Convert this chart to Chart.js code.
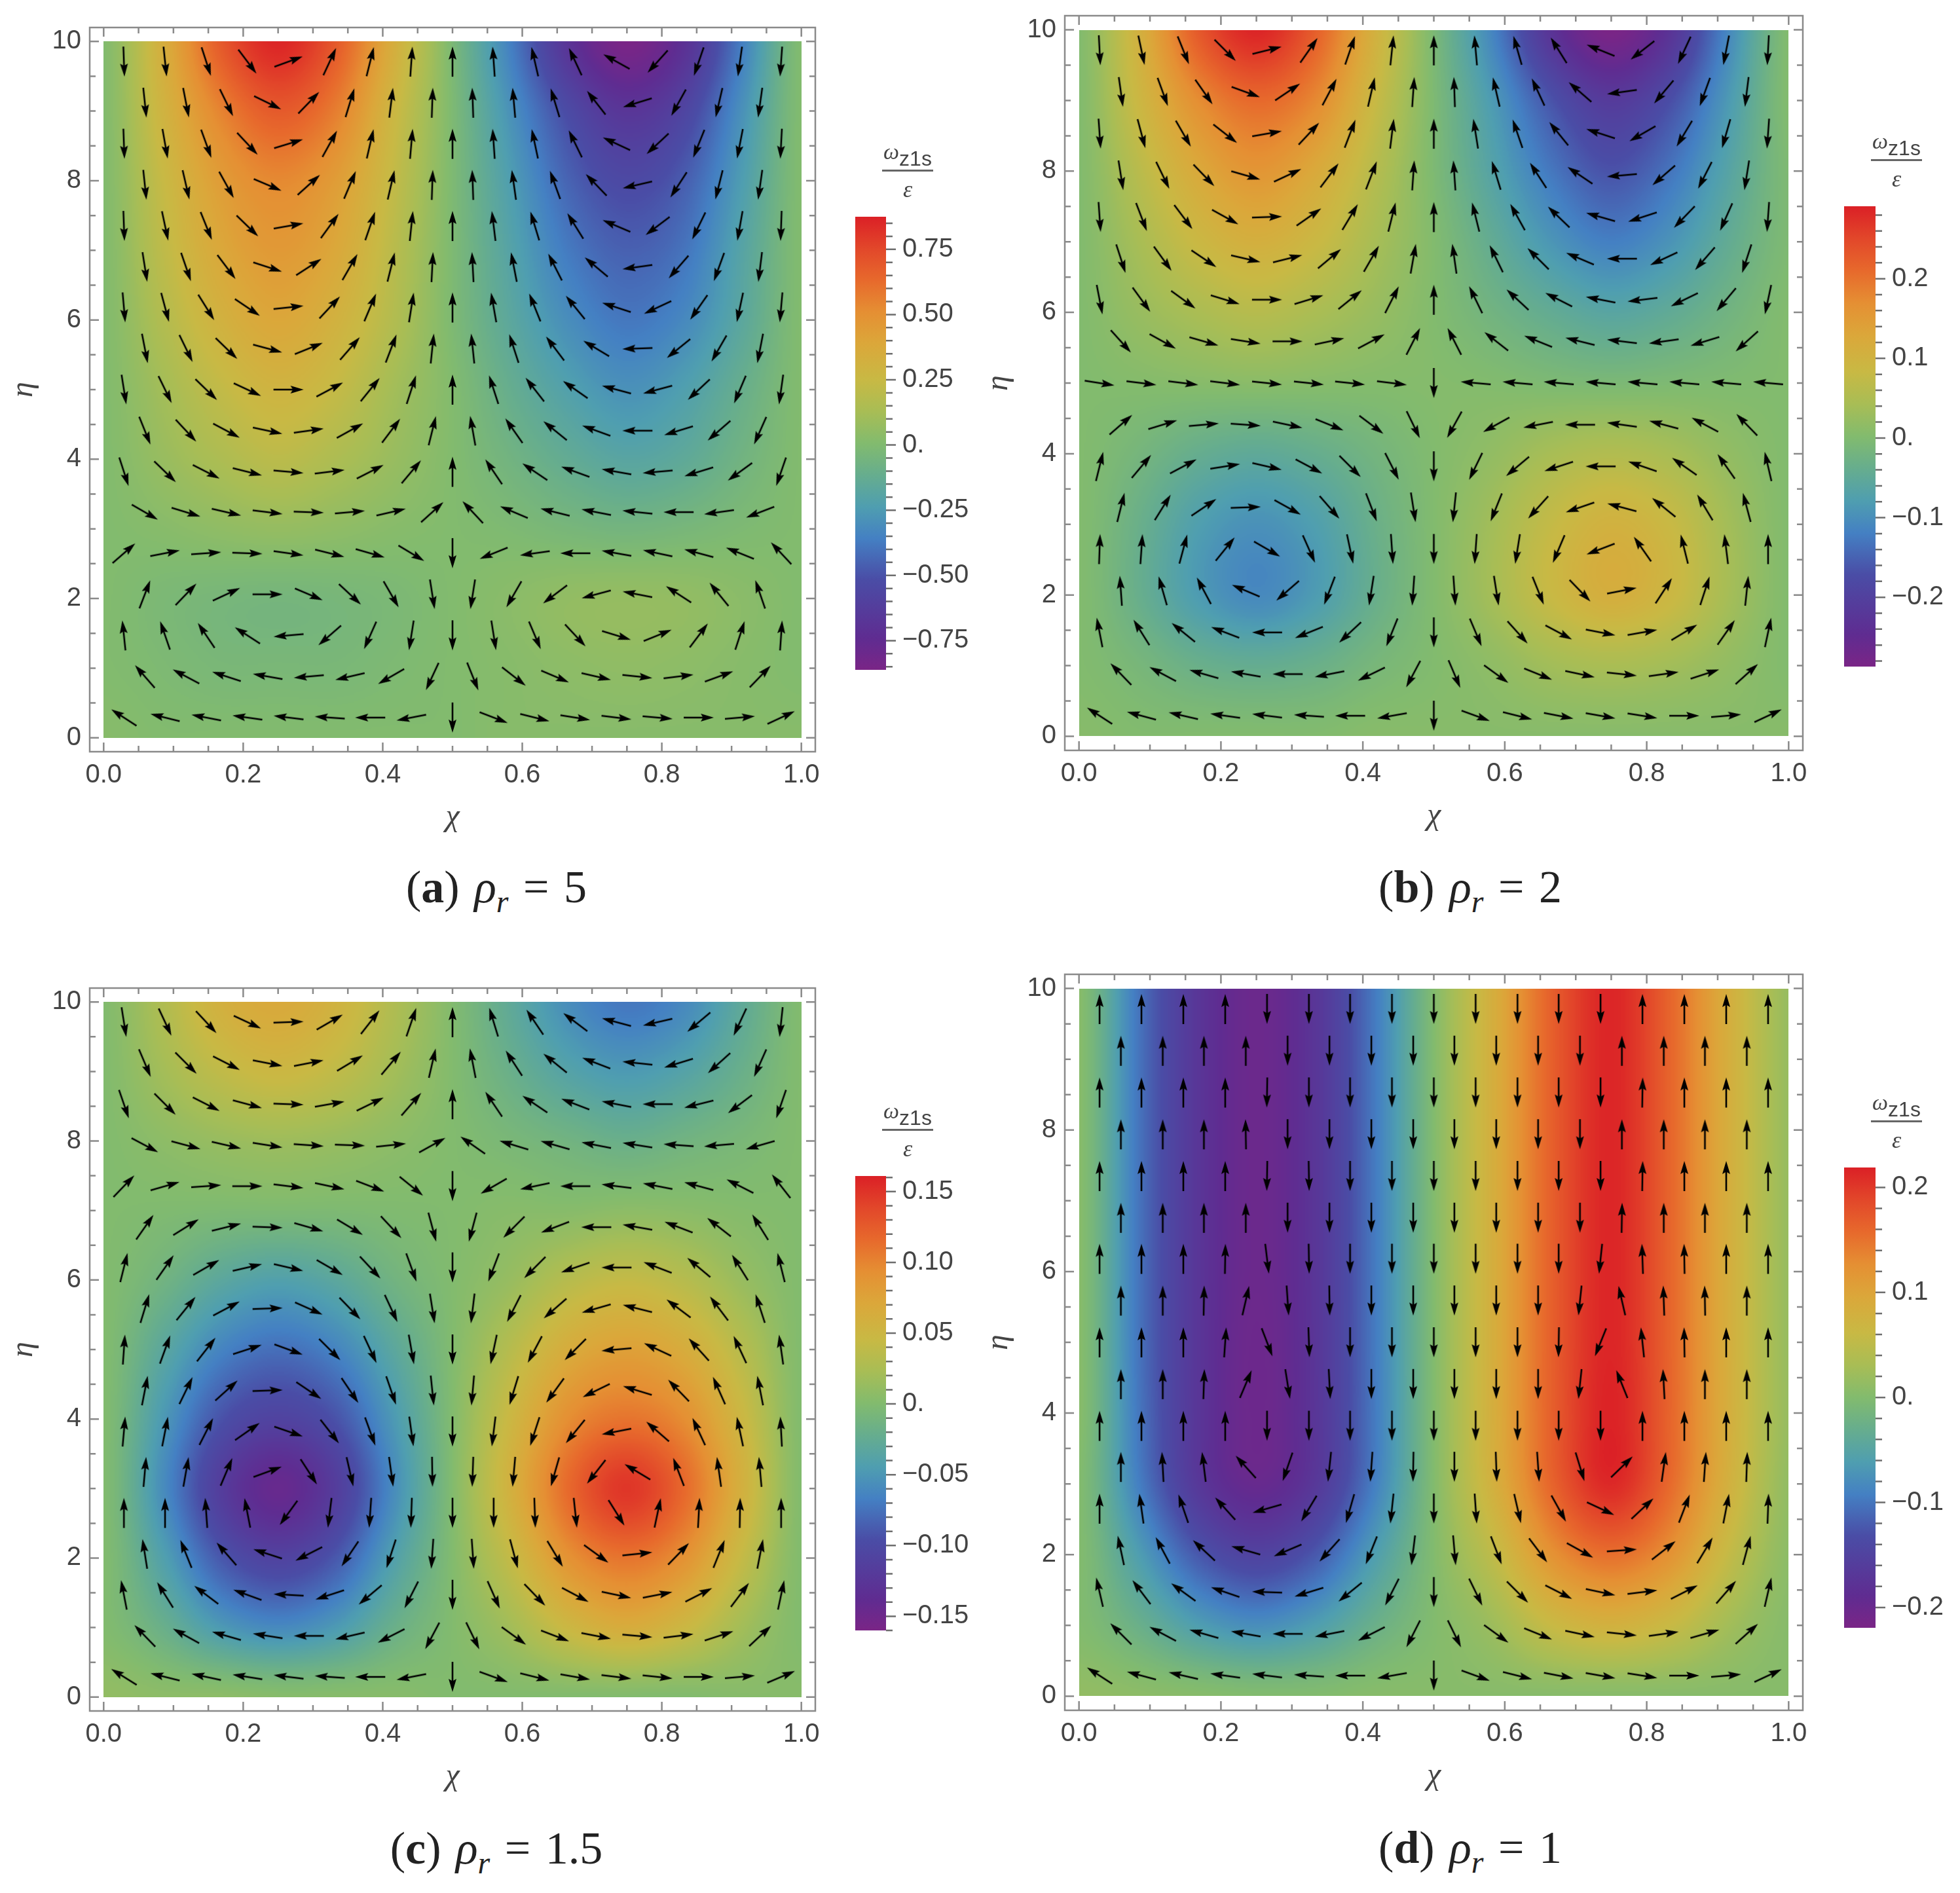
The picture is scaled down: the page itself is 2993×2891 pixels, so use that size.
<!DOCTYPE html>
<html>
<head>
<meta charset="utf-8">
<title>omega z1s</title>
<script src="https://cdn.jsdelivr.net/npm/chart.js@4"></script>
<style>
  html, body { margin: 0; background: #fff; }
  body { position: relative; width: 2993px; height: 2891px; overflow: hidden; }
  canvas { position: absolute; }
  .caption { position: absolute; width: 700px; margin-left: -350px; text-align: center; font: 70px "Liberation Serif", serif; word-spacing: 5px; color: #222; white-space: nowrap; }
  .caption sub { font-size: 48px; line-height: 0; }
  .frac { position: absolute; width: 78px; margin-left: -39px; color: #444; text-align: center; }
  .frac .num { height: 44px; border-bottom: 3px solid #666; font: 32px "Liberation Sans", sans-serif; white-space: nowrap; line-height: 54px; }
  .frac .num i { font: italic 34px "Liberation Serif", serif; position: relative; top: -10px; }
  .frac .den { font: italic 36px "Liberation Serif", serif; line-height: 54px; }
</style>
</head>
<body>
<script>
// 箭頭的列與行位置 (上到下)
const arrowEta = [9.71, 9.12, 8.53, 7.94, 7.35, 6.76, 6.18, 5.59, 5.0, 4.41, 3.82, 3.24, 2.65, 2.06, 1.47, 0.88, 0.29];
const arrowXLong = [0.029, 0.088, 0.147, 0.206, 0.265, 0.324, 0.382, 0.441, 0.5, 0.559, 0.618, 0.676, 0.735, 0.794, 0.853, 0.912, 0.971];
const arrowXShort = [0.059, 0.118, 0.176, 0.235, 0.294, 0.353, 0.412, 0.471, 0.529, 0.588, 0.647, 0.706, 0.765, 0.824, 0.882, 0.941];

// 箭頭方向 (度, 順時針, 0 = 朝上)
const anglesA = [
  [178,174,162,143,70,25,14,4,0,-4,-13,-25,-61,222,199,188,184],
  [174,169,154,116,44,17,7,2,-2,-5,-17,-38,253,209,193,188],
  [178,170,160,137,73,29,13,5,0,-4,-12,-26,-65,227,202,191,183],
  [174,167,151,113,48,23,13,2,-2,-8,-20,-44,257,213,194,188],
  [178,168,158,134,80,36,19,6,0,-7,-17,-32,-67,233,206,190,182],
  [171,161,143,108,57,30,14,3,-3,-11,-27,-50,262,221,200,187],
  [175,165,148,124,84,43,23,9,0,-10,-22,-39,-72,245,215,192,185],
  [169,154,134,105,68,41,21,6,-6,-18,-37,-59,268,231,210,191],
  [171,154,134,115,90,62,39,18,0,-18,-38,-55,-75,255,227,203,188],
  [158,137,118,102,82,61,37,14,-10,-35,-51,-70,270,253,229,204],
  [162,134,117,104,95,83,63,40,0,-34,-56,-70,-80,265,253,234,199],
  [120,107,103,97,92,85,77,48,-43,-67,-76,-79,-84,-90,262,249],
  [49,79,86,92,98,104,106,121,180,248,262,270,-80,-78,-75,-68,-43],
  [21,44,65,90,113,133,150,171,189,210,233,255,-79,-57,-39,-19],
  [-6,-19,-34,-57,265,229,204,189,180,171,157,137,107,68,37,18,4],
  [-41,-62,-72,-80,265,257,240,205,158,128,113,103,96,83,70,44],
  [-57,-76,-79,-82,-83,-86,270,259,180,111,104,99,97,95,90,85,65]
];
const anglesB = [
  [177,168,158,135,76,35,19,6,0,-5,-16,-32,-68,232,205,191,183],
  [172,160,145,110,56,28,13,4,-2,-13,-25,-49,262,220,200,187],
  [176,165,150,128,80,43,21,7,0,-9,-19,-39,-72,240,211,196,184],
  [171,154,136,106,65,37,21,4,-4,-17,-33,-56,265,229,207,189],
  [176,159,143,119,88,55,31,14,0,-14,-29,-46,-74,252,224,204,184],
  [162,144,124,103,76,50,30,10,-8,-26,-45,-67,270,245,221,198],
  [169,144,126,107,90,73,51,27,0,-26,-47,-63,-79,263,244,220,192],
  [138,119,106,99,90,78,62,27,-27,-52,-68,-76,-83,262,253,228],
  [99,97,97,97,96,96,96,97,180,-85,-85,-85,-85,-85,-85,-85,-85],
  [49,73,85,94,102,112,127,154,209,241,259,270,-82,-75,-62,-44],
  [14,40,62,81,103,118,135,153,180,206,230,252,270,-71,-55,-35,-13],
  [14,32,56,88,119,139,159,171,186,202,222,251,-75,-51,-31,-15],
  [2,4,15,39,120,156,168,176,180,184,189,203,249,-35,-14,-7,0],
  [-4,-16,-28,-67,229,201,189,184,176,171,158,136,79,33,18,6],
  [-11,-32,-51,-69,270,248,227,202,180,157,138,118,101,80,59,35,12],
  [-44,-62,-74,-80,270,259,244,208,157,126,112,102,96,82,72,48],
  [-57,-75,-77,-82,-83,-86,270,260,180,110,104,101,100,99,90,85,65]
];
const anglesC = [
  [171,155,137,115,88,60,38,19,0,-17,-34,-53,-75,257,230,205,186],
  [157,135,117,101,79,59,40,13,-11,-33,-51,-69,-84,253,228,204],
  [161,135,117,105,92,80,64,41,0,-34,-56,-69,-79,270,256,233,199],
  [118,105,103,99,94,92,84,61,-55,-73,-74,-79,-81,-86,265,254],
  [44,74,86,90,97,102,111,129,180,240,258,270,-83,-79,-75,-63,-38],
  [35,58,76,92,106,121,137,165,195,225,249,270,-80,-69,-52,-32],
  [14,35,60,77,103,120,137,160,180,201,225,251,270,-69,-50,-32,-14],
  [17,39,62,88,114,136,155,171,187,207,229,254,-76,-53,-37,-18],
  [4,20,38,72,110,135,155,170,180,192,208,225,265,-65,-42,-25,-8],
  [11,26,48,88,124,146,161,174,185,197,216,244,-73,-44,-24,-11],
  [5,11,27,55,109,142,160,172,180,187,198,219,259,-49,-25,-12,-3],
  [5,10,23,70,147,167,172,179,182,185,196,218,-59,-21,-8,-5],
  [0,0,-4,-11,216,187,184,182,180,180,178,174,148,12,3,1,0],
  [-9,-22,-41,-72,243,214,198,184,176,165,149,126,84,44,22,11],
  [-11,-32,-53,-70,-87,252,230,207,180,156,136,118,102,79,63,37,12],
  [-44,-61,-74,-81,270,257,243,208,154,126,111,101,95,83,72,47],
  [-58,-76,-78,-81,-83,-86,270,259,180,110,104,100,97,96,90,85,67]
];
const anglesD = [
  [0,0,0,0,180,180,180,180,180,180,180,180,180,0,0,0,0],
  [0,0,0,0,180,180,180,180,180,180,180,180,0,0,0,0],
  [0,0,0,0,181,180,180,180,180,180,180,180,180,1,0,0,0],
  [0,0,0,-1,180,180,180,180,180,180,180,180,0,0,0,0],
  [0,0,0,0,181,179,180,180,180,180,180,180,180,1,0,0,0],
  [0,0,0,0,180,180,180,180,180,180,180,180,1,0,0,0],
  [0,0,0,1,173,179,180,180,180,180,180,180,186,-2,-1,0,0],
  [0,0,1,13,176,179,180,180,180,180,180,186,-13,-2,-1,0],
  [0,0,0,4,159,178,180,180,180,180,180,181,202,-6,-1,0,0],
  [0,0,2,23,171,177,180,180,180,180,180,186,-22,-3,0,0],
  [0,0,0,0,180,180,180,180,180,180,180,180,180,0,0,0,0],
  [0,-3,-7,-42,199,186,184,181,180,178,176,163,46,8,4,2],
  [0,-8,-19,-42,254,211,196,186,180,176,167,151,115,47,21,11,2],
  [-12,-28,-47,-74,247,222,202,187,175,159,143,119,86,52,31,15],
  [-13,-37,-54,-71,-88,253,231,207,180,154,135,117,102,83,63,41,13],
  [-45,-62,-74,-80,270,259,243,207,154,126,112,102,96,82,74,48],
  [-57,-75,-77,-82,-83,-86,270,260,180,110,104,101,100,99,90,85,65]
];

// 底色數值 (色條範圍的百分比), 列: η = 10 到 0, 行: χ = 0 到 1 (每 1/12)
const heatA = [
  [0,38,78,98,78,38,-3,-42,-80,-100,-82,-42,0],
  [0,33,62,78,64,30,-2,-34,-62,-78,-66,-34,0],
  [0,27,50,60,50,25,-2,-28,-52,-63,-54,-28,0],
  [0,23,43,52,43,21,-2,-24,-44,-53,-46,-23,0],
  [0,18,35,44,35,18,-2,-20,-36,-45,-38,-20,0],
  [0,12,25,33,26,12,0,-14,-26,-34,-27,-13,0],
  [0,8,16,22,16,8,0,-8,-16,-22,-18,-8,0],
  [0,2,5,7,5,2,0,-2,-5,-7,-5,-2,0],
  [0,-3,-5,-6,-5,-3,0,3,6,7,6,3,0],
  [0,-2,-4,-4,-4,-2,0,2,4,5,4,2,0],
  [2,0,0,0,0,0,0,2,2,2,2,2,2]
];
const heatB = [
  [0,36,78,98,76,36,-3,-40,-80,-100,-80,-38,0],
  [0,30,58,72,60,28,-2,-30,-58,-74,-60,-30,0],
  [0,21,42,54,42,20,-2,-24,-45,-58,-46,-23,-2],
  [0,14,29,37,29,14,0,-16,-32,-42,-33,-16,-2],
  [0,8,15,20,15,8,0,-8,-16,-22,-17,-8,0],
  [0,1,2,3,2,1,1,0,-2,-3,-2,-1,0],
  [0,-6,-14,-18,-14,-7,0,6,14,18,14,6,0],
  [0,-12,-27,-34,-27,-12,0,12,26,35,28,12,0],
  [0,-13,-29,-38,-29,-13,0,13,28,38,30,13,0],
  [0,-5,-12,-15,-12,-5,0,5,12,15,12,6,0],
  [2,0,0,0,0,2,2,2,2,2,2,2,2]
];
const heatC = [
  [0,17,36,42,34,17,0,-18,-36,-45,-38,-18,0],
  [0,12,24,30,24,12,0,-12,-24,-30,-24,-12,0],
  [0,4,8,10,8,4,0,-4,-8,-12,-8,-4,0],
  [0,-1,-2,-2,-2,-1,0,2,2,4,3,1,0],
  [0,-8,-20,-26,-20,-8,0,8,20,26,20,8,0],
  [0,-20,-40,-48,-40,-20,0,20,40,48,40,20,0],
  [0,-30,-58,-68,-58,-30,0,30,58,68,58,30,0],
  [0,-36,-72,-90,-72,-36,0,36,72,92,72,36,0],
  [0,-26,-56,-68,-56,-26,0,26,56,68,56,26,0],
  [0,-12,-30,-38,-30,-12,0,12,30,40,30,12,0],
  [6,4,4,2,2,2,0,0,0,0,0,2,2]
];
const heatD = [
  [2,-46,-78,-92,-78,-44,0,38,76,98,74,38,8],
  [2,-46,-78,-92,-78,-44,0,38,76,98,74,38,8],
  [2,-46,-78,-92,-78,-44,0,38,76,98,74,38,8],
  [2,-46,-78,-92,-78,-44,0,38,76,98,74,38,8],
  [2,-46,-78,-92,-78,-44,0,38,76,98,74,38,8],
  [2,-46,-78,-93,-78,-44,0,38,76,98,74,38,8],
  [2,-45,-78,-93,-78,-44,0,38,76,99,74,38,8],
  [0,-42,-76,-90,-76,-42,0,36,74,97,72,36,6],
  [0,-28,-56,-68,-56,-28,0,24,56,70,56,26,4],
  [0,-12,-28,-36,-28,-12,0,10,28,36,28,12,2],
  [6,4,2,0,0,2,2,2,2,2,2,2,2]
];

// 色表
const cmapStops = [0, 0.07, 0.2, 0.29, 0.36, 0.43, 0.5, 0.57, 0.64, 0.72, 0.79, 0.86, 0.93, 1];
const cmapColors = ['#7a2586', '#5f2c91', '#4a4da6', '#4480c3', '#4f9eb0', '#66ad8e', '#82bb6e', '#a8bd55', '#c8b944', '#dba73a', '#e58f33', '#e7692c', '#e2472a', '#db2026'];

// 色條範圍與刻度
const barLimitsA = [-0.862, 0.875], barLimitsB = [-0.287, 0.291], barLimitsC = [-0.16, 0.161], barLimitsD = [-0.2194, 0.219];
const barSteps = { a: [0.05, 0.25, 2], b: [0.02, 0.1, 1], c: [0.01, 0.05, 2], d: [0.02, 0.1, 1] };

const captionLetters = ['a', 'b', 'c', 'd'];
const captionValues = ['5', '2', '1.5', '1'];

// 版面位置 (frame = 外框, bar = 色條)
const layoutA = { frame: [137, 42, 1108, 1106], bar: [1306, 331, 47, 692], cap: [758, 1315] };
const layoutB = { frame: [1626, 24, 1127, 1122], bar: [2816, 315, 48, 703], cap: [2245, 1315] };
const layoutC = { frame: [137, 1509, 1108, 1104], bar: [1306, 1796, 47, 694], cap: [758, 2783] };
const layoutD = { frame: [1626, 1488, 1127, 1124], bar: [2816, 1783, 48, 703], cap: [2245, 2782] };

const labelFont = { family: '"Liberation Sans", sans-serif', size: 40 };
const labelColor = '#444';
const frameColor = '#8a8a8a';

function hexRgb(h) {
  return [1, 3, 5].map(i => parseInt(h.substr(i, 2), 16));
}
const cmapRgb = cmapColors.map(hexRgb);
function colorAt(t) {
  t = Math.min(1, Math.max(0, t));
  let i = 0;
  while (i < cmapStops.length - 2 && t > cmapStops[i + 1]) i++;
  const f = (t - cmapStops[i]) / (cmapStops[i + 1] - cmapStops[i]);
  return [0, 1, 2].map(c => cmapRgb[i][c] + (cmapRgb[i + 1][c] - cmapRgb[i][c]) * f);
}
const lut = [];
for (let i = 0; i <= 400; i++) lut.push(colorAt(i / 400));

function cubic(p0, p1, p2, p3, t) {
  return p1 + 0.5 * t * (p2 - p0 + t * (2 * p0 - 5 * p1 + 4 * p2 - p3 + t * (3 * (p1 - p2) + p3 - p0)));
}
// 平滑取樣 (密度圖的顯示用)
function sampleGrid(grid, u, v) {
  const ny = grid.length, nx = grid[0].length;
  const iu = Math.min(nx - 2, Math.floor(u)), iv = Math.min(ny - 2, Math.floor(v));
  const tu = u - iu, tv = v - iv;
  const rows = [];
  for (let r = iv - 1; r <= iv + 2; r++) {
    const row = grid[Math.min(ny - 1, Math.max(0, r))];
    const c = k => row[Math.min(nx - 1, Math.max(0, k))];
    rows.push(cubic(c(iu - 1), c(iu), c(iu + 1), c(iu + 2), tu));
  }
  return cubic(rows[0], rows[1], rows[2], rows[3], tv);
}

function heatPlugin(grid) {
  return {
    id: 'heat',
    beforeDatasetsDraw(chart) {
      const { x: sx, y: sy } = chart.scales;
      const left = sx.getPixelForValue(0), right = sx.getPixelForValue(1);
      const top = sy.getPixelForValue(10), bottom = sy.getPixelForValue(0);
      const w = Math.round((right - left) / 2), h = Math.round((bottom - top) / 2);
      const off = document.createElement('canvas');
      off.width = w; off.height = h;
      const octx = off.getContext('2d');
      const img = octx.createImageData(w, h);
      const nx = grid[0].length - 1, ny = grid.length - 1;
      for (let j = 0; j < h; j++) {
        for (let i = 0; i < w; i++) {
          const val = sampleGrid(grid, i / (w - 1) * nx, j / (h - 1) * ny);
          const idx = Math.max(0, Math.min(400, Math.round((val / 100 + 1) * 200)));
          const col = lut[idx], p = (j * w + i) * 4;
          img.data[p] = col[0]; img.data[p + 1] = col[1]; img.data[p + 2] = col[2]; img.data[p + 3] = 255;
        }
      }
      octx.putImageData(img, 0, 0);
      const ctx = chart.ctx;
      ctx.save();
      ctx.imageSmoothingEnabled = true;
      ctx.imageSmoothingQuality = 'high';
      ctx.drawImage(off, left, top, right - left, bottom - top);
      ctx.restore();
    }
  };
}

// 外框與內向刻度
const framePlugin = {
  id: 'frameTicks',
  afterDatasetsDraw(chart) {
    const { left, right, top, bottom } = chart.chartArea;
    const { x: sx, y: sy } = chart.scales;
    const ctx = chart.ctx;
    ctx.save();
    ctx.strokeStyle = frameColor;
    ctx.lineWidth = 2.5;
    ctx.strokeRect(left, top, right - left, bottom - top);
    ctx.beginPath();
    sx.ticks.forEach(t => {
      const px = sx.getPixelForValue(t.value), len = t.label !== '' ? 14 : 9;
      ctx.moveTo(px, bottom); ctx.lineTo(px, bottom - len);
      ctx.moveTo(px, top); ctx.lineTo(px, top + len);
    });
    sy.ticks.forEach(t => {
      const py = sy.getPixelForValue(t.value), len = t.label !== '' ? 14 : 9;
      ctx.moveTo(left, py); ctx.lineTo(left + len, py);
      ctx.moveTo(right, py); ctx.lineTo(right - len, py);
    });
    ctx.stroke();
    ctx.restore();
  }
};

// 箭頭圖樣: 朝上, 以中心旋轉
function makeArrow() {
  const c = document.createElement('canvas');
  c.width = 50; c.height = 50;
  const g = c.getContext('2d');
  g.fillStyle = '#000';
  g.fillRect(23.7, 18, 2.6, 30);
  g.beginPath();
  g.moveTo(25, 2); g.lineTo(31, 22); g.lineTo(25, 18.5); g.lineTo(19, 22); g.closePath();
  g.fill();
  return c;
}
const arrowImage = makeArrow();

function addCanvas(left, top, w, h) {
  const c = document.createElement('canvas');
  c.width = w; c.height = h;
  c.style.left = left + 'px'; c.style.top = top + 'px';
  c.style.width = w + 'px'; c.style.height = h + 'px';
  document.body.appendChild(c);
  return c.getContext('2d');
}

function drawPanel(layout, angles, heat) {
  const [fx, fy, fw, fh] = layout.frame;
  const points = [], flat = [];
  angles.forEach((row, r) => {
    const xs = r % 2 === 0 ? arrowXLong : arrowXShort;
    row.forEach((a, k) => { points.push({ x: xs[k], y: arrowEta[r] }); flat.push(a); });
  });
  new Chart(addCanvas(fx - 137, fy - 42, fw + 177, fh + 172), {
    type: 'scatter',
    data: { datasets: [{
      data: points,
      pointStyle: arrowImage,
      pointRadius: 20,
      pointRotation: ctx => flat[ctx.dataIndex]
    }] },
    options: {
      responsive: false, maintainAspectRatio: false, animation: false, events: [],
      layout: { padding: { top: 42, right: 40, left: 0, bottom: 0 } },
      plugins: { legend: { display: false }, tooltip: { enabled: false } },
      scales: {
        x: {
          type: 'linear', min: -0.02, max: 1.02,
          grid: { display: false }, border: { display: false },
          afterFit: s => { s.height = 130; },
          title: { display: true, text: 'χ', color: labelColor, padding: { top: 0, bottom: 1 },
            font: { family: '"Liberation Serif", serif', size: 48, style: 'italic' } },
          ticks: { stepSize: 0.05, includeBounds: false, autoSkip: false, maxRotation: 0, minRotation: 0, padding: 4,
            color: labelColor, font: labelFont,
            callback: v => Math.abs(v * 5 - Math.round(v * 5)) < 1e-6 ? v.toFixed(1) : '' }
        },
        y: {
          type: 'linear', min: -0.2, max: 10.2,
          grid: { display: false }, border: { display: false },
          afterFit: s => { s.width = 137; },
          title: { display: true, text: 'η', color: labelColor, padding: { top: 8, bottom: 0 },
            font: { family: '"Liberation Serif", serif', size: 48, style: 'italic' } },
          ticks: { stepSize: 0.5, includeBounds: false, autoSkip: false, padding: 5,
            color: labelColor, font: labelFont,
            callback: v => v % 2 === 0 ? String(v) : '' }
        }
      }
    },
    plugins: [heatPlugin(heat), framePlugin]
  });
}

function drawBar(layout, limits, steps) {
  const [bx, by, bw, bh] = layout.bar;
  const [minor, major, digits] = steps;
  new Chart(addCanvas(bx, by - 60, bw + 170, bh + 120), {
    type: 'bar',
    data: { labels: [''], datasets: [{
      data: [limits],
      barPercentage: 1, categoryPercentage: 1, borderWidth: 0,
      backgroundColor: ctx => {
        const area = ctx.chart.chartArea;
        if (!area) return cmapColors[6];
        const g = ctx.chart.ctx.createLinearGradient(0, area.bottom, 0, area.top);
        cmapStops.forEach((s, i) => g.addColorStop(s, cmapColors[i]));
        return g;
      }
    }] },
    options: {
      responsive: false, maintainAspectRatio: false, animation: false, events: [],
      layout: { padding: { top: 60, bottom: 60, left: 0, right: 0 } },
      plugins: { legend: { display: false }, tooltip: { enabled: false } },
      scales: {
        x: { display: false },
        y: {
          position: 'right', min: limits[0], max: limits[1],
          grid: { display: false }, border: { display: false },
          afterFit: s => { s.width = 170; },
          ticks: { stepSize: minor, includeBounds: false, autoSkip: false, padding: 17,
            color: labelColor, font: labelFont,
            callback: v => {
              if (Math.abs(v / major - Math.round(v / major)) > 1e-6) return '';
              if (Math.abs(v) < 1e-9) return '0.';
              return (v < 0 ? '\u2212' : '') + Math.abs(v).toFixed(digits);
            } }
        }
      }
    },
    plugins: [{
      id: 'barTicks',
      afterDatasetsDraw(chart) {
        const { right } = chart.chartArea, s = chart.scales.y, ctx = chart.ctx;
        ctx.save();
        ctx.strokeStyle = '#6e6e6e';
        ctx.lineWidth = 2.5;
        ctx.beginPath();
        s.ticks.forEach(t => {
          const py = s.getPixelForValue(t.value);
          ctx.moveTo(right, py);
          ctx.lineTo(right + (t.label !== '' ? 15 : 10), py);
        });
        ctx.stroke();
        ctx.restore();
      }
    }]
  });
}

function addText(layout, letter, value) {
  const cap = document.createElement('div');
  cap.className = 'caption';
  cap.style.left = layout.cap[0] + 'px';
  cap.style.top = layout.cap[1] + 'px';
  cap.innerHTML = '(<b>' + letter + '</b>) <i>ρ<sub>r</sub></i> = ' + value;
  document.body.appendChild(cap);

  const [bx, by] = layout.bar;
  const fr = document.createElement('div');
  fr.className = 'frac';
  fr.style.left = (bx + 80) + 'px';
  fr.style.top = (by - 116) + 'px';
  fr.innerHTML = '<div class="num"><i>ω</i>z1s</div><div class="den">ε</div>';
  document.body.appendChild(fr);
}

drawPanel(layoutA, anglesA, heatA);
drawPanel(layoutB, anglesB, heatB);
drawPanel(layoutC, anglesC, heatC);
drawPanel(layoutD, anglesD, heatD);

drawBar(layoutA, barLimitsA, barSteps.a);
drawBar(layoutB, barLimitsB, barSteps.b);
drawBar(layoutC, barLimitsC, barSteps.c);
drawBar(layoutD, barLimitsD, barSteps.d);

[layoutA, layoutB, layoutC, layoutD].forEach((l, i) => addText(l, captionLetters[i], captionValues[i]));
</script>
</body>
</html>
